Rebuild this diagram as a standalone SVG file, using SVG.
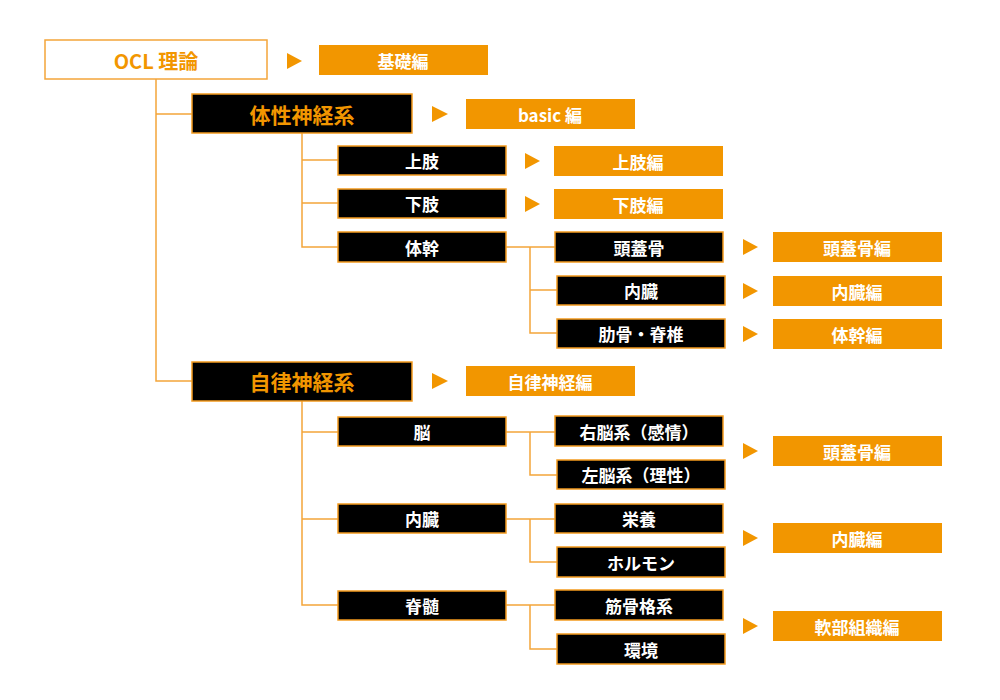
<svg xmlns="http://www.w3.org/2000/svg" width="1000" height="700" viewBox="0 0 1000 700">
<style>
text{font-family:"Noto Sans CJK JP","Noto Sans",sans-serif;font-weight:bold;text-anchor:middle;dominant-baseline:central}
.k{fill:#000;stroke:#F39A1E;stroke-width:1.5}
.o{fill:#F29600}
.w{fill:#fff;font-size:17px}
.ot{fill:#F29600}
.ln{stroke:#F4A53A;stroke-width:1.5;fill:none}
.tri{fill:#F29600}
</style>
<rect width="1000" height="700" fill="#fff"/>
<g id="connectors" class="ln">
<path d="M156 79V381H192M156 114H192"/>
<path d="M302 133V247H338M302 160H338M302 203H338"/>
<path d="M506 247H555M530 247V333H557M530 290H557"/>
<path d="M302 401V605H338M302 432H338M302 519H338"/>
<path d="M506 432H555M530 432V475H557"/>
<path d="M506 519H555M530 519V562H557"/>
<path d="M506 605H555M530 605V649H557"/>
</g>
<g id="arrows" class="tri">
<path d="M287 53L302 61L287 69Z"/>
<path d="M432 106L448 114L432 122Z"/>
<path d="M525 153L540 161L525 169Z"/>
<path d="M525 196L540 204L525 212Z"/>
<path d="M743 239L758 247L743 255Z"/>
<path d="M743 283L758 291L743 299Z"/>
<path d="M743 326L758 334L743 342Z"/>
<path d="M432 373L448 381L432 389Z"/>
<path d="M743 443L758 451L743 459Z"/>
<path d="M743 530L758 538L743 546Z"/>
<path d="M743 618L758 626L743 634Z"/>
</g>
<g id="ocl"><rect x="45" y="40" width="222" height="39" fill="#fff" stroke="#F4A53A" stroke-width="1.5"/><text x="156" y="60" class="ot" font-size="20">OCL 理論</text></g>
<g id="kiso"><rect x="319" y="45" width="169" height="30" class="o"/><text x="403" y="60" class="w">基礎編</text></g>
<g id="taisei"><rect x="192" y="94" width="220" height="39" class="k"/><text x="302" y="114" class="ot" font-size="21">体性神経系</text></g>
<g id="basic"><rect x="466" y="99" width="169" height="30" class="o"/><text x="550" y="114" class="w">basic 編</text></g>
<g id="joshi"><rect x="338" y="146" width="168" height="29" class="k"/><text x="422" y="160" class="w">上肢</text></g>
<g id="joshi-hen"><rect x="554" y="146" width="169" height="30" class="o"/><text x="638" y="161" class="w">上肢編</text></g>
<g id="kashi"><rect x="338" y="189" width="168" height="29" class="k"/><text x="422" y="203" class="w">下肢</text></g>
<g id="kashi-hen"><rect x="554" y="189" width="169" height="30" class="o"/><text x="638" y="204" class="w">下肢編</text></g>
<g id="taikan"><rect x="338" y="232" width="168" height="30" class="k"/><text x="422" y="247" class="w">体幹</text></g>
<g id="tougai"><rect x="555" y="232" width="168" height="30" class="k"/><text x="639" y="247" class="w">頭蓋骨</text></g>
<g id="tougai-hen"><rect x="773" y="232" width="169" height="30" class="o"/><text x="857" y="247" class="w">頭蓋骨編</text></g>
<g id="naizou1"><rect x="557" y="276" width="168" height="29" class="k"/><text x="641" y="290" class="w">内臓</text></g>
<g id="naizou1-hen"><rect x="773" y="276" width="169" height="30" class="o"/><text x="857" y="291" class="w">内臓編</text></g>
<g id="rokkotsu"><rect x="557" y="319" width="168" height="29" class="k"/><text x="641" y="333" class="w">肋骨・脊椎</text></g>
<g id="taikan-hen"><rect x="773" y="319" width="169" height="30" class="o"/><text x="857" y="334" class="w">体幹編</text></g>
<g id="jiritsu"><rect x="192" y="362" width="220" height="39" class="k"/><text x="302" y="381" class="ot" font-size="21">自律神経系</text></g>
<g id="jiritsu-hen"><rect x="466" y="366" width="169" height="30" class="o"/><text x="550" y="381" class="w">自律神経編</text></g>
<g id="nou"><rect x="338" y="417" width="168" height="29" class="k"/><text x="422" y="431" class="w">脳</text></g>
<g id="unou"><rect x="555" y="416" width="168" height="30" class="k"/><text x="639" y="431" class="w">右脳系（感情）</text></g>
<g id="sanou"><rect x="557" y="460" width="168" height="29" class="k"/><text x="641" y="474" class="w">左脳系（理性）</text></g>
<g id="tougai2-hen"><rect x="773" y="436" width="169" height="30" class="o"/><text x="857" y="451" class="w">頭蓋骨編</text></g>
<g id="naizou2"><rect x="338" y="504" width="168" height="29" class="k"/><text x="422" y="518" class="w">内臓</text></g>
<g id="eiyou"><rect x="555" y="504" width="168" height="29" class="k"/><text x="639" y="518" class="w">栄養</text></g>
<g id="hormone"><rect x="557" y="547" width="168" height="30" class="k"/><text x="641" y="562" class="w">ホルモン</text></g>
<g id="naizou2-hen"><rect x="773" y="523" width="169" height="30" class="o"/><text x="857" y="538" class="w">内臓編</text></g>
<g id="sekizui"><rect x="338" y="591" width="168" height="29" class="k"/><text x="422" y="605" class="w">脊髄</text></g>
<g id="kinkotsu"><rect x="555" y="590" width="168" height="30" class="k"/><text x="639" y="605" class="w">筋骨格系</text></g>
<g id="kankyou"><rect x="557" y="634" width="168" height="30" class="k"/><text x="641" y="649" class="w">環境</text></g>
<g id="nanbu-hen"><rect x="773" y="611" width="169" height="30" class="o"/><text x="857" y="626" class="w">軟部組織編</text></g>
</svg>
